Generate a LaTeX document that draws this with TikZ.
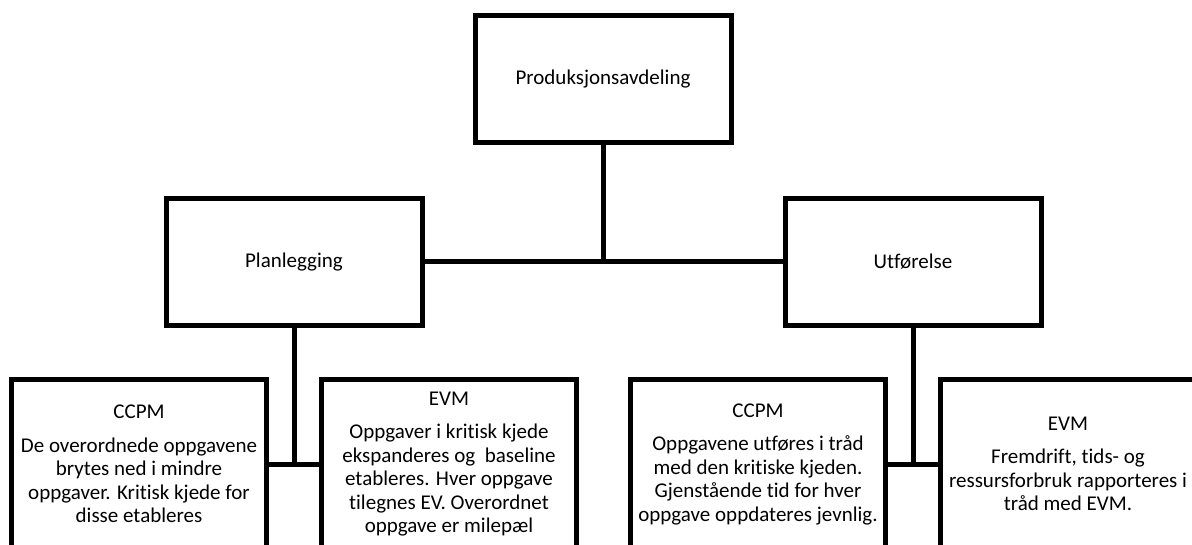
\documentclass[tikz,border=0pt]{standalone}
\usepackage{fontspec}
\setmainfont{Carlito}[Ligatures=NoCommon]
\begin{document}
\begin{tikzpicture}[x=1pt,y=-1pt,
  unit/.style={draw=black, line width=5pt, fill=white, rectangle,
    minimum width=256pt, minimum height=127pt, inner sep=0pt,
    font=\fontsize{21}{23.5}\selectfont, align=center},
  leaf/.style={unit, minimum width=255pt, minimum height=169pt},
  link/.style={draw=black, line width=5pt}]
\useasboundingbox (0,0) rectangle (1192,545);
\fill[white] (0,0) rectangle (1192,545);
\clip (0,0) rectangle (1192,545);

% top level
\node[unit] (prod) at (603,79) {Produksjonsavdeling};

% second level
\node[unit] (plan) at (294,262) {Planlegging};
\node[unit] (utf)  at (913,262) {Utførelse};

% leaves
\node[leaf] (ccpmA) at (139,464) {CCPM\\[10pt]De overordnede oppgavene\\brytes ned i mindre\\oppgaver. Kritisk kjede for\\disse etableres};
\node[leaf] (evmA) at (449,464) {EVM\\[10pt]Oppgaver i kritisk kjede\\ekspanderes og\ \ baseline\\etableres. Hver oppgave\\tilegnes EV. Overordnet\\oppgave er milepæl};
\node[leaf] (ccpmB) at (758,464) {CCPM\\[10pt]Oppgavene utføres i tråd\\med den kritiske kjeden.\\Gjenstående tid for hver\\oppgave oppdateres jevnlig.};
\node[leaf] (evmB) at (1068,464) {EVM\\[10pt]Fremdrift, tids- og\\ressursforbruk rapporteres i\\tråd med EVM.};

% connectors
\draw[link] (plan.east) -- (utf.west);
\draw[link] (prod.south) -- (prod.south |- plan.east);
\draw[link] (ccpmA.east) -- (evmA.west);
\draw[link] (plan.south) -- (plan.south |- ccpmA.east);
\draw[link] (ccpmB.east) -- (evmB.west);
\draw[link] (utf.south) -- (utf.south |- ccpmB.east);
\end{tikzpicture}
\end{document}
